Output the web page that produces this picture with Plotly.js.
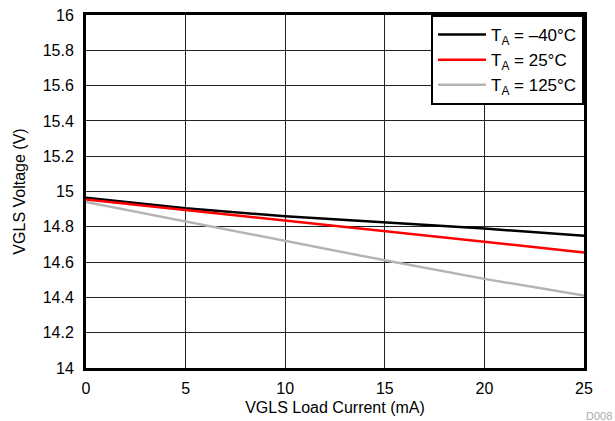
<!DOCTYPE html>
<html>
<head>
<meta charset="utf-8">
<script src="https://cdn.plot.ly/plotly-3.0.1.min.js"></script>
<style>html,body{margin:0;padding:0;background:#fff;}#chart{width:615px;height:421px;}</style>
</head>
<body>
<div id="chart"></div>
<script>
const loadCurrent = [0, 5, 10, 15, 20, 25];
const vMinus40 = [14.965, 14.905, 14.86, 14.825, 14.79, 14.75];
const v25 = [14.955, 14.895, 14.835, 14.775, 14.715, 14.655];
const v125 = [14.94, 14.83, 14.72, 14.61, 14.505, 14.41];
const seriesNames = ['T<sub>A</sub> = \u201340\u00b0C', 'T<sub>A</sub> = 25\u00b0C', 'T<sub>A</sub> = 125\u00b0C'];
const seriesColors = ['#000000', '#ff0000', '#b4b4b4'];
const seriesValues = [vMinus40, v25, v125];

const font = 'Liberation Sans, Arial, sans-serif';
const traces = seriesValues.map((v, i) => ({
  x: loadCurrent, y: v, type: 'scatter', mode: 'lines',
  name: seriesNames[i], line: {color: seriesColors[i], width: 2.5}
}));

const layout = {
  width: 615, height: 421,
  margin: {l: 86, r: 31, t: 15, b: 53},
  paper_bgcolor: '#fff', plot_bgcolor: '#fff',
  font: {family: font, size: 16, color: '#000'},
  showlegend: true,
  legend: {
    x: 1, y: 1, xanchor: 'right', yanchor: 'top',
    bordercolor: '#000', borderwidth: 2, bgcolor: '#fff',
    font: {family: font, size: 17, color: '#000'},
    tracegroupgap: 0, itemwidth: 48
  },
  xaxis: {
    range: [0, 25], tickvals: [0, 5, 10, 15, 20, 25],
    ticks: 'outside', ticklen: 4, tickcolor: 'rgba(0,0,0,0)',
    showgrid: true, gridcolor: '#222', gridwidth: 1,
    showline: true, linecolor: '#000', linewidth: 3, mirror: true,
    zeroline: false, tickfont: {size: 16},
    title: {text: 'VGLS Load Current (mA)', font: {size: 16}, standoff: 6}
  },
  yaxis: {
    range: [14, 16], tickvals: [14, 14.2, 14.4, 14.6, 14.8, 15, 15.2, 15.4, 15.6, 15.8, 16],
    ticktext: ['14', '14.2', '14.4', '14.6', '14.8', '15', '15.2', '15.4', '15.6', '15.8', '16'],
    ticks: 'outside', ticklen: 6, tickcolor: 'rgba(0,0,0,0)',
    showgrid: true, gridcolor: '#222', gridwidth: 1,
    showline: true, linecolor: '#000', linewidth: 3, mirror: true,
    zeroline: false, tickfont: {size: 16},
    title: {text: 'VGLS Voltage (V)', font: {size: 16}, standoff: 14}
  },
  annotations: [{
    text: 'D008', xref: 'paper', yref: 'paper', x: 1.06, y: -0.135,
    xanchor: 'right', yanchor: 'middle', showarrow: false,
    font: {family: font, size: 11, color: '#aaa'}
  }]
};

Plotly.newPlot('chart', traces, layout, {displayModeBar: false, staticPlot: true});
</script>
</body>
</html>
